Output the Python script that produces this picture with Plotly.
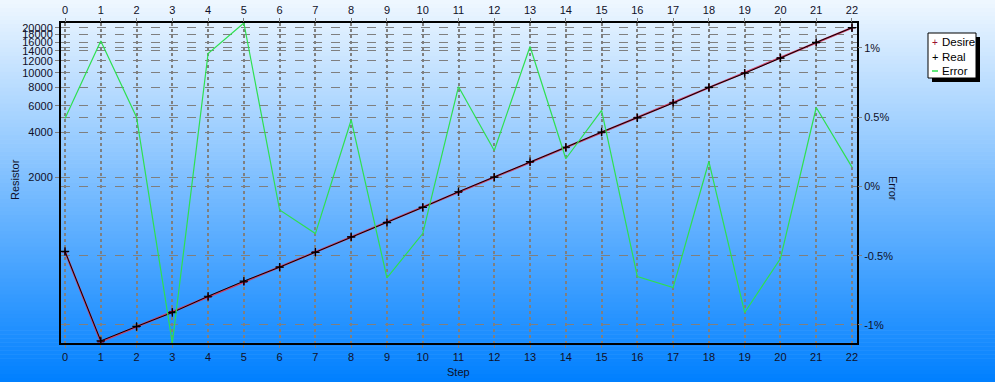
import plotly.graph_objects as go
import math

# ---------------- data ----------------
steps = list(range(23))
desire = [636, 159, 200, 252, 317, 399, 502, 632, 796, 1002, 1262, 1589, 2000,
          2518, 3170, 3991, 5024, 6325, 7962, 10024, 12619, 15887, 20000]
real = [639, 161, 201, 249, 320, 404, 501, 630, 800, 995, 1258, 1600, 2005,
        2543, 3176, 4013, 4991, 6279, 7976, 9933, 12553, 15978, 20027]
error_pct = [0.49, 1.05, 0.50, -1.13, 0.96, 1.18, -0.17, -0.34, 0.48, -0.66, -0.34,
             0.72, 0.26, 1.01, 0.20, 0.55, -0.65, -0.73, 0.18, -0.91, -0.52, 0.57, 0.14]
res_ticks = [2000, 4000, 6000, 8000, 10000, 12000, 14000, 16000, 18000, 20000]
err_ticks = [-1, -0.5, 0, 0.5, 1]
err_labels = ["-1%", "-0.5%", "0%", "0.5%", "1%"]

W, H = 995, 382
ML, MR, MT, MB = 61, 138, 23, 39
PW, PH = W - ML - MR, H - MT - MB


def px(x):
    return (x - ML) / PW


def py(y):
    return (H - MB - y) / PH


FONT = "Liberation Sans, Arial, sans-serif"
TXT = "#101028"
GRID = "#7f7f7f"

fig = go.Figure()
fig.add_trace(go.Scatter(x=steps, y=desire, mode="lines+markers", name="Desire",
                         line=dict(color="#d03a62", width=2),
                         marker=dict(symbol="cross-thin", size=5,
                                     line=dict(color="#7a0020", width=1.5)),
                         xaxis="x", yaxis="y"))
fig.add_trace(go.Scatter(x=steps, y=real, mode="lines+markers", name="Real",
                         line=dict(color="#000000", width=1),
                         marker=dict(symbol="cross-thin", size=6,
                                     line=dict(color="#000000", width=1.2)),
                         xaxis="x", yaxis="y"))
fig.add_trace(go.Scatter(x=steps, y=error_pct, mode="lines", name="Error",
                         line=dict(color="#2ee050", width=1.2),
                         xaxis="x2", yaxis="y2", cliponaxis=False))

# gradient background bands
shapes = []
nb = 96
for i in range(nb):
    t = (i + 0.5) / nb
    r = int(240 + (0 - 240) * t)
    g = int(248 + (128 - 248) * t)
    b = 255
    y0 = H * i / nb
    y1 = H * (i + 1) / nb + 0.6
    shapes.append(dict(type="rect", xref="paper", yref="paper",
                       x0=px(0), x1=px(W), y0=py(y1), y1=py(y0),
                       line=dict(width=0), fillcolor=f"rgb({r},{g},{b})",
                       layer="below"))

# custom legend box with shadow
shapes.append(dict(type="rect", xref="paper", yref="paper",
                   x0=px(932), x1=px(980), y0=py(82), y1=py(37),
                   line=dict(width=0), fillcolor="black", layer="above"))
shapes.append(dict(type="rect", xref="paper", yref="paper",
                   x0=px(928), x1=px(976), y0=py(78), y1=py(33),
                   line=dict(width=1, color="black"), fillcolor="white", layer="above"))
shapes.append(dict(type="line", xref="paper", yref="paper",
                   x0=px(932), x1=px(938), y0=py(71), y1=py(71),
                   line=dict(width=1.5, color="#2ee050"), layer="above"))

ann = []
for name, yy in [("Desire", 42.5), ("Real", 56.5), ("Error", 70.5)]:
    ann.append(dict(text=name, xref="paper", yref="paper", x=px(940), y=py(yy),
                    xanchor="left", yanchor="middle", showarrow=False,
                    font=dict(family=FONT, size=11.5, color="black")))
ann.append(dict(text="+", xref="paper", yref="paper", x=px(935), y=py(42.5),
                xanchor="center", yanchor="middle", showarrow=False,
                font=dict(family=FONT, size=10, color="#9a1030")))
ann.append(dict(text="+", xref="paper", yref="paper", x=px(935), y=py(56.5),
                xanchor="center", yanchor="middle", showarrow=False,
                font=dict(family=FONT, size=11, color="black")))
# axis titles
ann.append(dict(text="Resistor", xref="paper", yref="paper", x=px(15), y=py(180),
                xanchor="center", yanchor="middle", showarrow=False, textangle=-90,
                font=dict(family=FONT, size=11, color=TXT)))
ann.append(dict(text="Error", xref="paper", yref="paper", x=px(893), y=py(188),
                xanchor="center", yanchor="middle", showarrow=False, textangle=90,
                font=dict(family=FONT, size=11, color=TXT)))
ann.append(dict(text="Step", xref="paper", yref="paper", x=px(458), y=py(372),
                xanchor="center", yanchor="middle", showarrow=False,
                font=dict(family=FONT, size=11, color=TXT)))

xr = [-0.112, 22.14]
axis_common = dict(tickfont=dict(family=FONT, size=11, color=TXT),
                   zeroline=False, automargin=False)

fig.update_layout(
    width=W, height=H,
    margin=dict(l=ML, r=MR, t=MT, b=MB, pad=0, autoexpand=False),
    paper_bgcolor="rgb(200,225,252)",
    plot_bgcolor="rgba(0,0,0,0)",
    showlegend=False,
    shapes=shapes,
    annotations=ann,
    xaxis=dict(range=xr, tickmode="array", tickvals=steps,
               showgrid=True, gridcolor=GRID, gridwidth=2, griddash="dot",
               showline=True, linecolor="black", linewidth=2, mirror=True,
               ticks="outside", ticklen=3, tickcolor=GRID, **axis_common),
    xaxis2=dict(range=xr, tickmode="array", tickvals=steps, overlaying="x",
                side="top", anchor="y2", showgrid=False,
                ticks="outside", ticklen=4, tickcolor=GRID,
                **axis_common),
    yaxis=dict(type="log", range=[math.log10(155.8), math.log10(21530)],
               tickmode="array", tickvals=res_ticks,
               ticktext=[str(v) for v in res_ticks],
               showgrid=True, gridcolor=GRID, gridwidth=1, griddash="dash",
               showline=True, linecolor="black", linewidth=2, mirror=True,
               ticks="outside", ticklen=4, tickcolor=GRID, **axis_common),
    yaxis2=dict(range=[-1.13, 1.18], tickmode="array", tickvals=err_ticks,
                ticktext=err_labels, overlaying="y", side="right", anchor="x2",
                showgrid=True, gridcolor=GRID, gridwidth=1, griddash="dash",
                ticks="outside", ticklen=4, tickcolor=GRID, **axis_common),
)

fig.write_html("out.html")
